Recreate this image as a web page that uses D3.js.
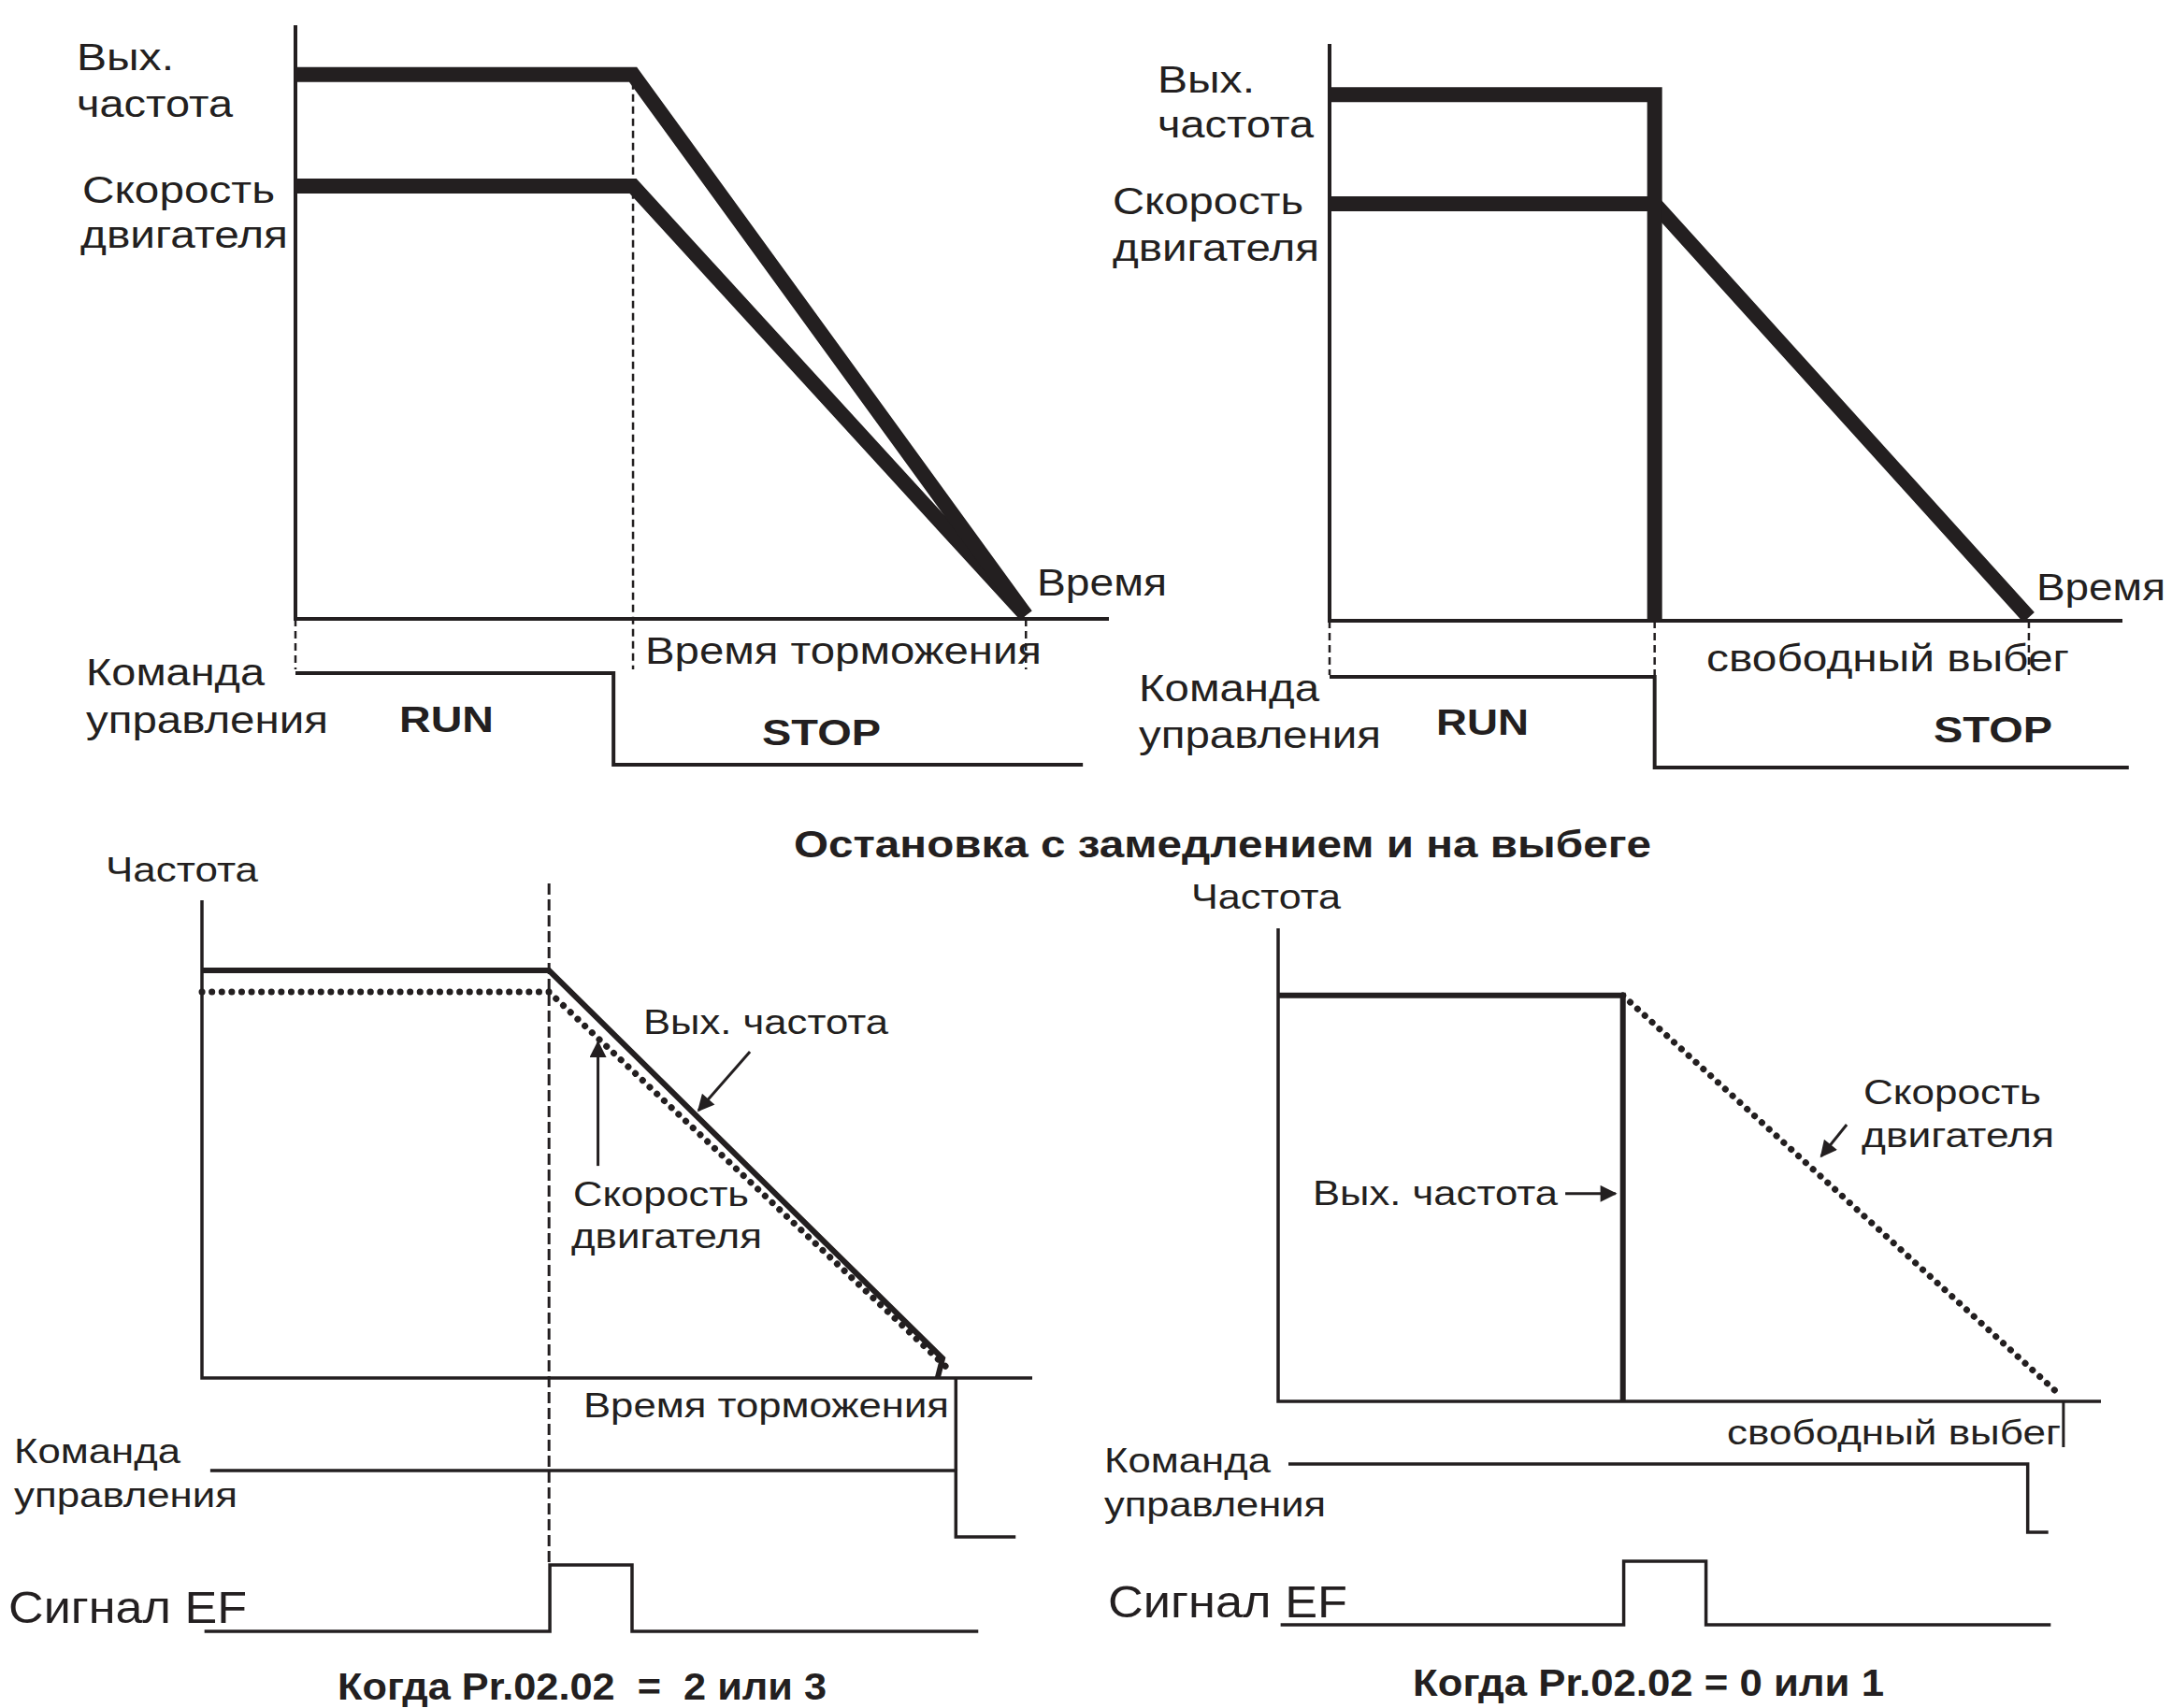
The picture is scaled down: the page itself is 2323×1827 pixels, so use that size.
<!DOCTYPE html>
<html>
<head>
<meta charset="utf-8">
<script src="https://cdn.jsdelivr.net/npm/d3@7"></script>
<style>
  body { margin: 0; background: #fff; }
  text { font-family: "Liberation Sans", Arial, sans-serif; fill: #231f20; }
</style>
</head>
<body>
<div class="d3-container"></div>
<script>
const w = 2323
const h = 1827
const ink = '#231f20'

// data: time and frequency in % of each panel's axis, signals as 0 / 1
// top-left: deceleration stop
const aOutFreq = [[0, 91.7], [41.5, 91.7], [89.8, 0.6]]
const aMotor = [[0, 72.9], [41.5, 72.9], [89.8, 0.6]]
const aCmd = [[0, 1], [39.1, 1], [39.1, 0], [96.8, 0]]
const aMarks = [0, 41.5, 89.8]

// top-right: coast stop
const bOutFreq = [[0, 91.2], [41, 91.2], [41, 0]]
const bMotor = [[0, 72.3], [41, 72.3], [88.2, 0.6]]
const bCmd = [[0, 1], [41, 1], [41, 0], [100.8, 0]]
const bMarks = [0, 41, 88.2]

// bottom-left: EF, Pr.02.02 = 2 or 3
const cOutFreq = [[0, 85.3], [41.8, 85.3], [89.2, 4.1], [88.6, 0]]
const cMotor = [[0, 80.8], [41.8, 80.8], [90.2, 1.4]]
const cCmd = [[1, 1], [90.8, 1], [90.8, 0], [98, 0]]
const cEF = [[0.3, 0], [41.9, 0], [41.9, 1], [51.8, 1], [51.8, 0], [93.5, 0]]

// bottom-right: EF, Pr.02.02 = 0 or 1
const dOutFreq = [[0, 85.8], [41.9, 85.8], [41.9, 0]]
const dMotor = [[41.9, 85.8], [95.1, 1.2]]
const dCmd = [[1.25, 1], [91.1, 1], [91.1, 0], [93.6, 0]]
const dEF = [[0.3, 0], [42, 0], [42, 1], [52, 1], [52, 0], [93.9, 0]]

const svg = d3.select('.d3-container')
    .append('svg')
    .attr('width', w)
    .attr('height', h)

svg.append('rect').attr('width', w).attr('height', h).attr('fill', '#fff')

const defs = svg.append('defs')
defs.append('marker')
    .attr('id', 'head')
    .attr('viewBox', '0 0 10 10')
    .attr('refX', 9).attr('refY', 5)
    .attr('markerWidth', 7).attr('markerHeight', 6)
    .attr('markerUnits', 'strokeWidth')
    .attr('orient', 'auto')
    .append('path')
    .attr('d', 'M0,0 L10,5 L0,10 Z')
    .attr('fill', ink)

// scales for each panel
const A = {
    x: d3.scaleLinear().domain([0, 100]).range([316, 1186]),
    y: d3.scaleLinear().domain([0, 100]).range([662, 27]),
    s: d3.scaleLinear().domain([0, 1]).range([818, 720])
}
const B = {
    x: d3.scaleLinear().domain([0, 100]).range([1422, 2270]),
    y: d3.scaleLinear().domain([0, 100]).range([664, 47]),
    s: d3.scaleLinear().domain([0, 1]).range([821, 724])
}
const C = {
    x: d3.scaleLinear().domain([0, 100]).range([216, 1104]),
    y: d3.scaleLinear().domain([0, 100]).range([1474, 963]),
    s: d3.scaleLinear().domain([0, 1]).range([1644, 1573]),
    e: d3.scaleLinear().domain([0, 1]).range([1745, 1674])
}
const D = {
    x: d3.scaleLinear().domain([0, 100]).range([1367, 2247]),
    y: d3.scaleLinear().domain([0, 100]).range([1499, 993]),
    s: d3.scaleLinear().domain([0, 1]).range([1639, 1566]),
    e: d3.scaleLinear().domain([0, 1]).range([1738, 1670])
}

const plot = (p, ys, data, width, extra) => {
    const line = d3.line().x(d => p.x(d[0])).y(d => ys(d[1]))
    const el = svg.append('path')
        .datum(data)
        .attr('d', line)
        .attr('fill', 'none')
        .attr('stroke', ink)
        .attr('stroke-width', width)
        .attr('stroke-linejoin', 'miter')
    if (extra) extra(el)
    return el
}

const axes = (p, width) => {
    plot(p, p.y, [[0, 100], [0, 0], [100, 0]], width)
}

const dashed = (p, t, y0, y1, width, dash) => {
    svg.append('line')
        .attr('x1', p.x(t)).attr('x2', p.x(t))
        .attr('y1', y0).attr('y2', y1)
        .attr('stroke', ink)
        .attr('stroke-width', width)
        .attr('stroke-dasharray', dash)
}

const dotted = el => el.attr('stroke-dasharray', '0.1 10.5').attr('stroke-linecap', 'round')

// ---- top-left
axes(A, 4)
aMarks.forEach((t, i) => dashed(A, t, i === 1 ? A.y(aOutFreq[1][1]) + 8 : A.y(0), 716, 2.5, '8,5'))
plot(A, A.y, aMotor, 16)
plot(A, A.y, aOutFreq, 16)
plot(A, A.s, aCmd, 4)

// ---- top-right
axes(B, 4)
bMarks.forEach(t => dashed(B, t, B.y(0), 722, 2.5, '8,5'))
plot(B, B.y, bMotor, 16)
plot(B, B.y, bOutFreq, 16)
plot(B, B.s, bCmd, 4)

// ---- bottom-left
axes(C, 3.5)
dashed(C, cOutFreq[1][0], 945, C.e(1), 3, '12,5')
plot(C, C.y, cMotor, 7, dotted)
plot(C, C.y, cOutFreq, 6)
plot(C, C.s, cCmd, 3.5)
svg.append('line')
    .attr('x1', C.x(cCmd[1][0])).attr('x2', C.x(cCmd[1][0]))
    .attr('y1', C.y(0)).attr('y2', C.s(1))
    .attr('stroke', ink).attr('stroke-width', 3.5)
plot(C, C.e, cEF, 3.5)
// arrows
plot(C, C.y, [[66.0, 68.3], [59.8, 56.0]], 3, el => el.attr('marker-end', 'url(#head)'))
plot(C, C.y, [[47.7, 44.4], [47.7, 70.3]], 3, el => el.attr('marker-end', 'url(#head)'))

// ---- bottom-right
axes(D, 3.5)
plot(D, D.y, dMotor, 7, dotted)
plot(D, D.y, dOutFreq, 6)
svg.append('line')
    .attr('x1', D.x(dMotor[1][0]) + 3).attr('x2', D.x(dMotor[1][0]) + 3)
    .attr('y1', D.y(0)).attr('y2', 1548)
    .attr('stroke', ink).attr('stroke-width', 3)
plot(D, D.s, dCmd, 3.5)
plot(D, D.e, dEF, 3.5)
plot(D, D.y, [[34.9, 43.9], [41.0, 43.9]], 3, el => el.attr('marker-end', 'url(#head)'))
plot(D, D.y, [[69.1, 58.5], [66.0, 51.8]], 3, el => el.attr('marker-end', 'url(#head)'))

// ---- labels: [text, x, baseline, size, width, bold]
const labels = [
    ['Вых.', 82, 75, 40, 104],
    ['частота', 82, 125, 40, 167],
    ['Скорость', 88, 217, 40, 206],
    ['двигателя', 86, 265, 40, 222],
    ['Время', 1109, 637, 40, 139],
    ['Время торможения', 690, 710, 40, 424],
    ['Команда', 92, 733, 40, 191],
    ['управления', 92, 784, 40, 259],
    ['RUN', 427, 783, 38, 101, true],
    ['STOP', 815, 797, 38, 127, true],

    ['Вых.', 1238, 99, 40, 104],
    ['частота', 1238, 147, 40, 167],
    ['Скорость', 1190, 229, 40, 204],
    ['двигателя', 1190, 279, 40, 221],
    ['Время', 2178, 642, 40, 138],
    ['свободный выбег', 1825, 718, 40, 388],
    ['Команда', 1218, 750, 40, 193],
    ['управления', 1218, 800, 40, 259],
    ['RUN', 1536, 786, 38, 99, true],
    ['STOP', 2068, 794, 38, 127, true],

    ['Остановка с замедлением и на выбеге', 849, 917, 40, 917, true],

    ['Частота', 113, 943, 37, 163],
    ['Вых. частота', 688, 1106, 37, 262],
    ['Скорость', 613, 1290, 37, 188],
    ['двигателя', 611, 1335, 37, 204],
    ['Время торможения', 624, 1516, 37, 391],
    ['Команда', 15, 1565, 37, 178],
    ['управления', 15, 1612, 37, 239],
    ['Сигнал EF', 9, 1736, 48, 255],
    ['Когда Pr.02.02  =  2 или 3', 361, 1818, 40, 523, true],

    ['Частота', 1274, 972, 37, 160],
    ['Вых. частота', 1404, 1289, 37, 262],
    ['Скорость', 1993, 1181, 37, 190],
    ['двигателя', 1991, 1227, 37, 206],
    ['свободный выбег', 1847, 1545, 37, 357],
    ['Команда', 1181, 1575, 37, 178],
    ['управления', 1181, 1622, 37, 237],
    ['Сигнал EF', 1185, 1730, 48, 256],
    ['Когда Pr.02.02 = 0 или 1', 1511, 1814, 40, 504, true]
]

svg.append('g')
    .selectAll('text')
    .data(labels)
    .enter()
    .append('text')
    .attr('x', d => d[1])
    .attr('y', d => d[2])
    .attr('font-size', d => d[3])
    .attr('font-weight', d => d[5] ? 'bold' : 'normal')
    .attr('textLength', d => d[4])
    .attr('lengthAdjust', 'spacingAndGlyphs')
    .style('white-space', 'pre')
    .text(d => d[0])
</script>
</body>
</html>
